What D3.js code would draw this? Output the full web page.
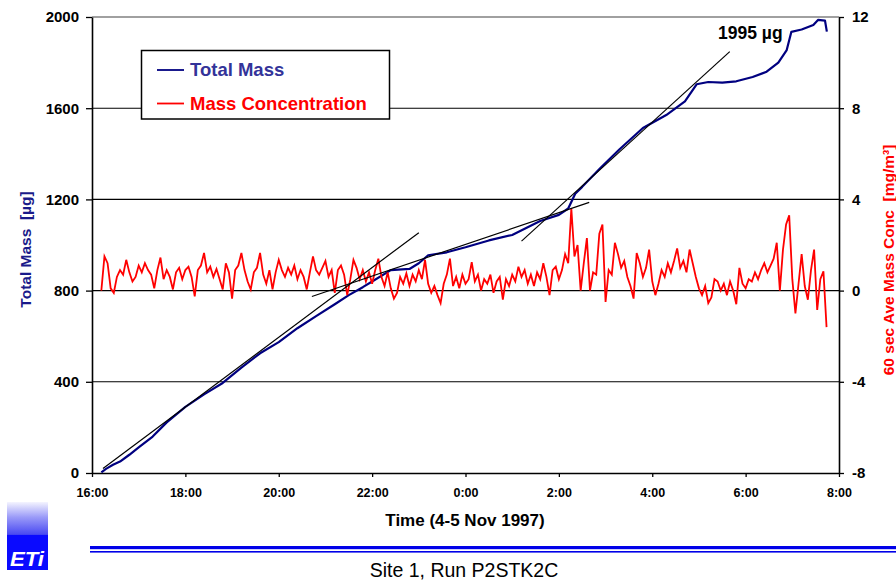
<!DOCTYPE html>
<html>
<head>
<meta charset="utf-8">
<script src="https://cdn.jsdelivr.net/npm/d3@7"></script>
<style>
  html, body { margin: 0; padding: 0; background: #fff; }
  svg { display: block; font-family: "Liberation Sans", Arial, Helvetica, sans-serif; }
</style>
</head>
<body>
<svg id="chart" width="896" height="581"></svg>
<script>
// ---------- data ----------
const timeTickHours = [0, 2, 4, 6, 8, 10, 12, 14, 16];
const timeTickLabels = ["16:00", "18:00", "20:00", "22:00", "0:00", "2:00", "4:00", "6:00", "8:00"];
const massTicks = [0, 400, 800, 1200, 1600, 2000];
const concTicks = [-8, -4, 0, 4, 8, 12];

// Total mass (µg) vs hours after 16:00
const massHours = [0.2, 0.3, 0.45, 0.6, 0.8, 1.0, 1.3, 1.6, 2.0, 2.4, 2.8, 3.2, 3.6, 4.0, 4.4, 4.8, 5.2, 5.5,
  5.8, 6.0, 6.4, 6.8, 7.0, 7.2, 7.6, 8.0, 8.5, 9.0, 9.6, 10.0, 10.2, 10.35, 10.5, 10.9, 11.3, 11.8, 12.3,
  12.7, 12.95, 13.2, 13.5, 13.8, 14.15, 14.45, 14.7, 14.88, 14.98, 15.2, 15.45, 15.55, 15.7, 15.74];
const massValues = [3, 18, 36, 50, 80, 112, 160, 222, 290, 345, 395, 462, 525, 574, 635, 688, 740, 780,
  815, 840, 890, 895, 920, 955, 968, 990, 1020, 1044, 1105, 1132, 1160, 1225, 1255, 1340, 1420, 1513, 1570,
  1630, 1705, 1715, 1712, 1718, 1737, 1760, 1800, 1855, 1935, 1945, 1965, 1987, 1984, 1936];

// 60 s average mass concentration (mg/m³), one reading every 4 minutes from 16:12
const concStartHour = 0.2;
const concStepHours = 4 / 60;
const concValues = [
  0.0, 1.5, 1.2, 0.1, -0.1, 0.6, 0.9, 0.7, 1.35, 0.8,
  0.4, 0.6, 1.1, 0.8, 1.2, 0.9, 0.7, 0.1, 0.9, 1.45,
  0.5, 0.9, 0.6, 0.05, 0.8, 1.0, 0.5, 0.9, 1.05, 0.6,
  -0.25, 0.9, 1.1, 1.65, 0.8, 1.05, 0.6, 0.95, 0.5, 0.05,
  1.2, 0.8, -0.35, 0.9, 1.1, 1.65, 0.9, 0.4, 0.05, 0.8,
  1.0, 1.65, 0.7, 0.3, 0.9, 0.05, 0.8, 1.35, 0.9, 0.6,
  1.0, 0.7, 1.1, 0.5, 0.9, 0.6, 0.05, 0.8, 1.5, 0.9,
  0.7, 1.0, 1.3, 0.6, 0.9, -0.1, 0.9, 1.1, 0.7, -0.2,
  0.5, 1.35, 1.0, 0.5, 0.9, 0.4, 0.8, 0.3, 0.9, 1.4,
  0.6, 0.2, 0.8, 0.1, -0.35, -0.1, 0.6, 0.3, 0.75, 0.2,
  0.7, 0.4, 0.9, 0.5, 1.35, 0.3, -0.1, 0.2, -0.2, -0.55,
  0.3, 0.7, 1.4, 0.2, 0.6, 0.1, 0.7, 0.3, 0.5, 1.25,
  0.4, 0.7, 0.0, 0.5, 0.3, 0.7, -0.1, 0.4, 0.6, -0.4,
  0.5, 0.2, 0.7, 0.4, 1.05, 0.6, 0.9, 0.3, 0.7, 0.2,
  0.8, 0.5, 1.2, 0.6, -0.2, 0.9, 1.05, 0.5, 0.9, 1.6,
  1.2, 3.6, 1.5, 2.0, 0.0, 1.2, 2.3, 0.0, 0.8, 0.7,
  2.5, 2.9, -0.5, 0.9, 0.7, 2.1, 1.6, 1.0, 1.3, 0.6,
  0.2, -0.35, 1.65, 1.2, 0.6, 1.0, 1.8, 0.4, -0.2, 0.3,
  0.9, 0.6, 1.2, 0.8, 1.3, 1.85, 1.0, 1.3, 0.8, 1.8,
  1.2, 0.6, 0.1, -0.2, 0.2, -0.55, -0.3, 0.5, 0.4, 0.0,
  0.3, -0.2, 0.4, 0.0, -0.6, 1.0, 0.3, 0.1, 0.5, 0.4,
  0.8, 0.5, 0.9, 1.2, 0.8, 1.1, 1.4, 2.1, 0.0, 1.8,
  2.9, 3.3, 0.5, -1.0, 0.3, 1.6, 0.2, -0.4, 0.9, 1.8, -0.85, 0.5, 0.85, -1.6
];

// Fitted slope lines (start hour/mass, end hour/mass)
const slopeStartHours = [0.235, 4.71, 9.2];
const slopeStartMass = [20, 774, 1017];
const slopeEndHours = [7.0, 10.65, 13.66];
const slopeEndMass = [1054, 1187, 1848];

const finalMassLabel = "1995 µg";
const finalMassLabelHour = 13.41;
const finalMassLabelMass = 1903;

// ---------- layout ----------
const svg = d3.select("#chart");
const L = 92, R = 839, T = 17, B = 473;
const x = d3.scaleLinear().domain([0, 16]).range([L, R]);
const yM = d3.scaleLinear().domain([0, 2000]).range([B, T]);
const yC = d3.scaleLinear().domain([-8, 12]).range([B, T]);
const FONT = '"Liberation Sans", Arial, Helvetica, sans-serif';

svg.append("rect").attr("width", 896).attr("height", 581).attr("fill", "#fff");

// gridlines
svg.append("g").selectAll("line")
  .data(massTicks.filter(d => d > 0))
  .join("line")
  .attr("x1", L).attr("x2", R)
  .attr("y1", d => yM(d)).attr("y2", d => yM(d))
  .attr("stroke", d => d === 2000 ? "#808080" : "#000")
  .attr("stroke-width", d => d === 2000 ? 1.6 : 1.1);

// axes
function styleAxis(g, size) {
  g.selectAll("path.domain").attr("stroke", "#000").attr("stroke-width", 1.6);
  g.selectAll(".tick line").attr("stroke", "#000").attr("stroke-width", 1.3);
  g.selectAll(".tick text").attr("fill", "#000").attr("font-weight", "bold")
    .attr("font-family", FONT).attr("font-size", size);
}
const gLeft = svg.append("g").attr("transform", `translate(${L},0)`)
  .call(d3.axisLeft(yM).tickValues(massTicks).tickSize(6).tickSizeOuter(0).tickPadding(7).tickFormat(d => String(d)));
styleAxis(gLeft, 15);
const gRight = svg.append("g").attr("transform", `translate(${R},0)`)
  .call(d3.axisRight(yC).tickValues(concTicks).tickSize(5).tickSizeOuter(0).tickPadding(8).tickFormat(d => String(d)));
styleAxis(gRight, 15);
const gBottom = svg.append("g").attr("transform", `translate(0,${B})`)
  .call(d3.axisBottom(x).tickValues(timeTickHours).tickSize(4).tickSizeOuter(0).tickPadding(11)
    .tickFormat((d, i) => timeTickLabels[i]));
styleAxis(gBottom, 12.5);

// total mass line
const massData = massHours.map((h, i) => [h, massValues[i]]);
svg.append("path")
  .datum(massData)
  .attr("fill", "none").attr("stroke", "#000080").attr("stroke-width", 2.2)
  .attr("stroke-linejoin", "round")
  .attr("d", d3.line().x(d => x(d[0])).y(d => yM(d[1])));

// concentration line
const concData = concValues.map((v, i) => [concStartHour + i * concStepHours, v]);
svg.append("path")
  .datum(concData)
  .attr("fill", "none").attr("stroke", "#ff0000").attr("stroke-width", 1.8)
  .attr("stroke-linejoin", "miter")
  .attr("d", d3.line().x(d => x(d[0])).y(d => yC(d[1])));

// slope lines
svg.append("g").selectAll("line")
  .data(slopeStartHours.map((h, i) => i))
  .join("line")
  .attr("x1", i => x(slopeStartHours[i])).attr("y1", i => yM(slopeStartMass[i]))
  .attr("x2", i => x(slopeEndHours[i])).attr("y2", i => yM(slopeEndMass[i]))
  .attr("stroke", "#000").attr("stroke-width", 1.2);

// final mass annotation
svg.append("text")
  .attr("x", x(finalMassLabelHour)).attr("y", yM(finalMassLabelMass))
  .attr("font-family", FONT).attr("font-weight", "bold").attr("font-size", 17.5)
  .attr("fill", "#000").text(finalMassLabel);

// legend
const lg = svg.append("g");
lg.append("rect").attr("x", 141.5).attr("y", 50.5).attr("width", 248).attr("height", 68.5)
  .attr("fill", "#fff").attr("stroke", "#000").attr("stroke-width", 1.5);
lg.append("line").attr("x1", 157).attr("x2", 184).attr("y1", 70).attr("y2", 70)
  .attr("stroke", "#000080").attr("stroke-width", 1.8);
lg.append("text").attr("x", 190).attr("y", 76).attr("font-family", FONT).attr("font-weight", "bold")
  .attr("font-size", 18.5).attr("fill", "#333399").text("Total Mass");
lg.append("line").attr("x1", 157).attr("x2", 184).attr("y1", 103.5).attr("y2", 103.5)
  .attr("stroke", "#ff0000").attr("stroke-width", 1.8);
lg.append("text").attr("x", 190).attr("y", 110).attr("font-family", FONT).attr("font-weight", "bold")
  .attr("font-size", 18.5).attr("fill", "#ff0000").text("Mass Concentration");

// axis titles
svg.append("text")
  .attr("transform", "translate(31,249.5) rotate(-90)")
  .attr("text-anchor", "middle").attr("font-family", FONT).attr("font-weight", "bold")
  .attr("font-size", 15.5).attr("fill", "#1a1a8a").attr("xml:space", "preserve")
  .text("Total Mass  [µg]");
svg.append("text")
  .attr("transform", "translate(893.5,260) rotate(-90)")
  .attr("text-anchor", "middle").attr("font-family", FONT).attr("font-weight", "bold")
  .attr("font-size", 15.5).attr("fill", "#ff0000").attr("xml:space", "preserve")
  .text("60 sec Ave Mass Conc  [mg/m³]");
svg.append("text")
  .attr("x", 465).attr("y", 526).attr("text-anchor", "middle")
  .attr("font-family", FONT).attr("font-weight", "bold").attr("font-size", 17)
  .attr("fill", "#000").text("Time (4-5 Nov 1997)");

// footer rules
svg.append("rect").attr("x", 90).attr("y", 546).attr("width", 806).attr("height", 3.2).attr("fill", "#0000e8");
svg.append("rect").attr("x", 90).attr("y", 551).attr("width", 806).attr("height", 1.6).attr("fill", "#0000e8");
svg.append("text")
  .attr("x", 464).attr("y", 577).attr("text-anchor", "middle")
  .attr("font-family", FONT).attr("font-size", 19.5).attr("fill", "#000")
  .text("Site 1, Run P2STK2C");

// ETI logo
const defs = svg.append("defs");
const grad = defs.append("linearGradient").attr("id", "logoGrad").attr("x1", 0).attr("y1", 0).attr("x2", 0).attr("y2", 1);
grad.append("stop").attr("offset", "0%").attr("stop-color", "#f4f4ff");
grad.append("stop").attr("offset", "45%").attr("stop-color", "#9a9af8");
grad.append("stop").attr("offset", "95%").attr("stop-color", "#4a4af2");
grad.append("stop").attr("offset", "100%").attr("stop-color", "#1010f0");
svg.append("rect").attr("x", 7).attr("y", 502).attr("width", 41).attr("height", 34).attr("fill", "url(#logoGrad)");
svg.append("rect").attr("x", 7).attr("y", 535).attr("width", 41).attr("height", 35).attr("fill", "#0a0aff");
svg.append("text").attr("x", 10).attr("y", 566).attr("font-family", FONT).attr("font-weight", "bold")
  .attr("font-style", "italic").attr("font-size", 20).attr("fill", "#fff")
  .attr("textLength", 34).attr("lengthAdjust", "spacingAndGlyphs").text("ETi");
</script>
</body>
</html>
